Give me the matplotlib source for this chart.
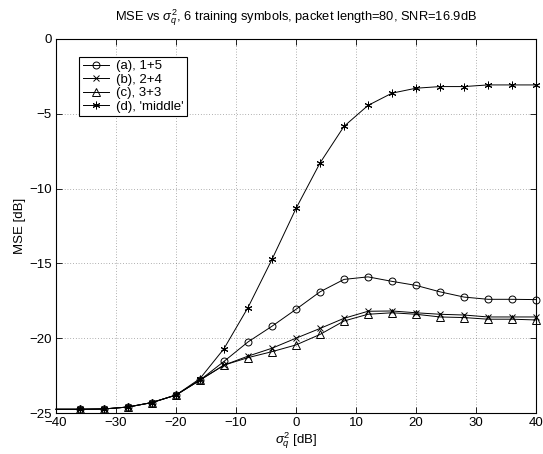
import matplotlib
matplotlib.use('Agg')
import matplotlib.pyplot as plt

plt.rcParams['font.family'] = ['Liberation Sans', 'DejaVu Sans']
plt.rcParams['mathtext.fontset'] = 'custom'
plt.rcParams['mathtext.rm'] = 'Liberation Sans'
plt.rcParams['mathtext.it'] = 'Liberation Sans:italic'
plt.rcParams['font.size'] = 9.5

# sigma_q^2 in dB
sigma_db = [-40, -36, -32, -28, -24, -20, -16, -12, -8, -4, 0, 4, 8, 12, 16, 20, 24, 28, 32, 36, 40]

# MSE [dB] per training arrangement
mse_a = [-24.75, -24.75, -24.73, -24.6, -24.3, -23.8, -22.8, -21.55, -20.25, -19.2, -18.07, -16.9,
         -16.07, -15.9, -16.2, -16.47, -16.9, -17.25, -17.4, -17.4, -17.42]
mse_b = [-24.75, -24.75, -24.73, -24.6, -24.3, -23.8, -22.8, -21.8, -21.2, -20.67, -20.0, -19.35,
         -18.67, -18.2, -18.18, -18.3, -18.4, -18.45, -18.58, -18.58, -18.58]
mse_c = [-24.75, -24.75, -24.73, -24.6, -24.3, -23.8, -22.8, -21.8, -21.3, -20.9, -20.45, -19.75,
         -18.85, -18.4, -18.3, -18.4, -18.58, -18.62, -18.73, -18.73, -18.78]
mse_d = [-24.75, -24.75, -24.73, -24.6, -24.3, -23.8, -22.7, -20.7, -17.95, -14.73, -11.33, -8.29,
         -5.84, -4.44, -3.62, -3.29, -3.18, -3.18, -3.07, -3.07, -3.07]

labels = ['(a), 1+5', '(b), 2+4', '(c), 3+3', "(d), 'middle'"]

fig = plt.figure(figsize=(5.43, 4.54), dpi=100)
ax = fig.add_axes([0.1031, 0.0903, 0.884, 0.8238])

mk = dict(color='k', lw=0.7, markevery=slice(1, None), markerfacecolor='none',
          markeredgewidth=0.7, clip_on=False)
ax.plot(sigma_db, mse_a, marker='o', ms=5, label=labels[0], **mk)
ax.plot(sigma_db, mse_b, marker='x', ms=4.5, label=labels[1], **mk)
ax.plot(sigma_db, mse_c, marker='^', ms=5.5, label=labels[2], **mk)
ax.plot(sigma_db, mse_d, marker=(6, 2, 0), ms=5.5, label=labels[3], **mk)

ax.set_xlim(-40, 40)
ax.set_ylim(-25, 0)
ax.set_xticks(range(-40, 41, 10))
ax.set_yticks(range(-25, 1, 5))
ax.tick_params(direction='in', top=True, right=True, length=4, width=0.6, pad=3)
ax.grid(True, linestyle=(0, (1, 3)), color='k', lw=0.5, alpha=0.6)
for s in ax.spines.values():
    s.set_linewidth(0.8)

ax.set_xlabel(r'$\sigma_q^2$ [dB]', labelpad=1)
ax.set_ylabel('MSE [dB]', labelpad=2)
ax.set_title(r'MSE vs $\sigma_q^2$, 6 training symbols, packet length=80, SNR=16.9dB',
             fontsize=9.3, pad=13)

leg = ax.legend(loc='upper left', bbox_to_anchor=(0.035, 0.97), fancybox=False,
                edgecolor='k', framealpha=1, handlelength=2.0, borderpad=0.25,
                labelspacing=0.1, handletextpad=0.5, fontsize=9.5)
leg.get_frame().set_linewidth(0.8)

fig.savefig('out.png', dpi=100)
